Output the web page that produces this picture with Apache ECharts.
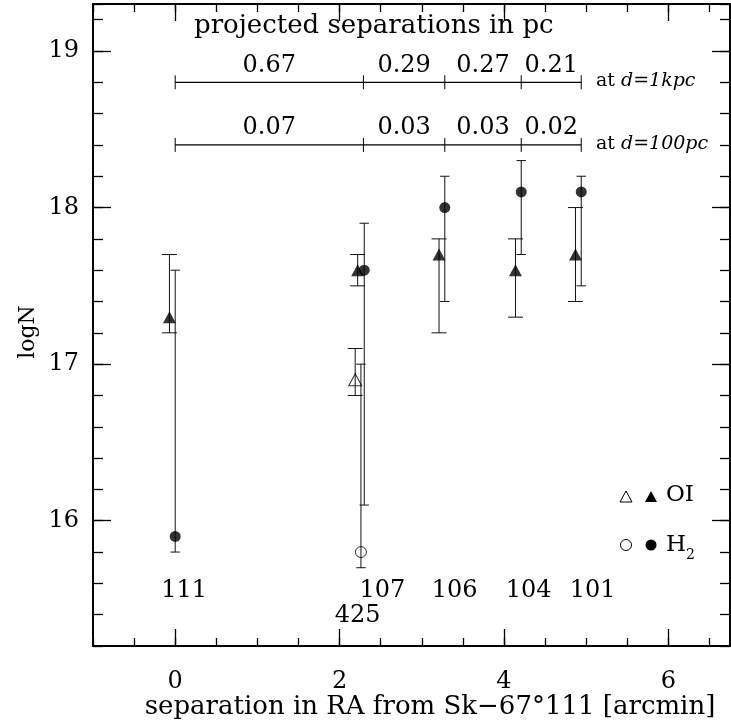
<!DOCTYPE html>
<html><head><meta charset="utf-8">
<script src="https://cdn.jsdelivr.net/npm/echarts@6/dist/echarts.min.js"></script>
<style>html,body{margin:0;padding:0;background:#fff}#c{width:731px;height:724px}</style>
</head><body><div id="c"></div>
<script>
// ---- data ----
const stars = ['111', '425', '107', '106', '104', '101'];
// OI column densities (x = separation, y = logN, error limits)
const oiX  = [-0.07, 2.19, 2.22, 3.21, 4.14, 4.87];
const oiY  = [17.3, 16.9, 17.6, 17.7, 17.6, 17.7];
const oiHi = [17.7, 17.1, 17.7, 17.8, 17.8, 18.0];
const oiLo = [17.2, 16.8, 17.5, 17.2, 17.3, 17.4];
const oiOpen = [false, true, false, false, false, false];
// H2 column densities
const h2X  = [0.0, 2.26, 2.30, 3.28, 4.21, 4.94];
const h2Y  = [15.9, 15.8, 17.6, 18.0, 18.1, 18.1];
const h2Hi = [17.6, 17.0, 17.9, 18.2, 18.3, 18.2];
const h2Lo = [15.8, 15.7, 16.1, 17.4, 17.7, 17.5];
const h2Open = [false, true, false, false, false, false];
// star name labels (data coords)
const starLabelX = [0.11, 2.22, 2.52, 3.40, 4.30, 5.08];
const starLabelY = [15.55, 15.39, 15.55, 15.55, 15.55, 15.55];
// projected separation bars
const sepTicks = [0, 2.29, 3.28, 4.21, 4.94];
const sep1kpc  = ['0.67', '0.29', '0.27', '0.21'];
const sep100pc = ['0.07', '0.03', '0.03', '0.02'];
const sepBarY  = [18.8, 18.4];
const sepNote  = ['1kpc', '100pc'];
const sepNoteX = 5.12;
// axes
const xTickLabels = [0, 2, 4, 6];
const yTickLabels = [16, 17, 18, 19];

// ---- chart ----
const FF = '"DejaVu Serif"';
const FS = 24;
const chart = echarts.init(document.getElementById('c'));

function xAxisDef(pos, major, showLabel) {
  return {
    type: 'value', position: pos, min: -1, max: 6.75, offset: 0,
    interval: major ? undefined : 0.5,
    splitLine: { show: false },
    axisLine: { show: major, onZero: false, lineStyle: { color: '#000', width: 2 } },
    axisTick: major
      ? { show: true, inside: true, length: 17, customValues: xTickLabels, lineStyle: { color: '#000', width: 1.3 } }
      : { show: true, inside: true, length: 8, lineStyle: { color: '#000', width: 1.3 } },
    axisLabel: (major && showLabel)
      ? { show: true, customValues: xTickLabels, margin: 24, color: '#000', fontFamily: FF, fontSize: FS }
      : { show: false }
  };
}
function yAxisDef(pos, major, showLabel) {
  return {
    type: 'value', position: pos, min: 15.2, max: 19.3, offset: 0,
    interval: major ? undefined : 0.2,
    splitLine: { show: false },
    axisLine: { show: major, onZero: false, lineStyle: { color: '#000', width: 2 } },
    axisTick: major
      ? { show: true, inside: true, length: 18, customValues: yTickLabels, lineStyle: { color: '#000', width: 1.3 } }
      : { show: true, inside: true, length: 10, lineStyle: { color: '#000', width: 1.3 } },
    axisLabel: (major && showLabel)
      ? { show: true, customValues: yTickLabels, margin: 14, color: '#000', fontFamily: FF, fontSize: FS }
      : { show: false }
  };
}

function errRender(capHalf, xs, los, his) {
  return function (params, api) {
    const i = params.dataIndex;
    const pHi = api.coord([xs[i], his[i]]);
    const pLo = api.coord([xs[i], los[i]]);
    const st = { stroke: '#111', lineWidth: 1 };
    return { type: 'group', children: [
      { type: 'line', shape: { x1: pHi[0], y1: pHi[1], x2: pLo[0], y2: pLo[1] }, style: st },
      { type: 'line', shape: { x1: pHi[0] - capHalf, y1: pHi[1], x2: pHi[0] + capHalf, y2: pHi[1] }, style: st },
      { type: 'line', shape: { x1: pLo[0] - capHalf, y1: pLo[1], x2: pLo[0] + capHalf, y2: pLo[1] }, style: st }
    ]};
  };
}

function sepRender(labels, barY) {
  return function (params, api) {
    const i = params.dataIndex;
    const p = api.coord([sepTicks[i], barY]);
    const st = { stroke: '#000', lineWidth: 1 };
    const ch = [{ type: 'line', shape: { x1: p[0], y1: p[1] - 7, x2: p[0], y2: p[1] + 7 }, style: st }];
    if (i > 0) {
      const q = api.coord([sepTicks[i - 1], barY]);
      ch.push({ type: 'line', shape: { x1: q[0], y1: p[1], x2: p[0], y2: p[1] }, style: { stroke: '#000', lineWidth: 1.3 } });
      ch.push({ type: 'text', style: { text: labels[i - 1], x: (p[0] + q[0]) / 2, y: p[1] - 17,
        align: 'center', verticalAlign: 'middle', fontFamily: FF, fontSize: FS, fill: '#000' } });
    }
    return { type: 'group', children: ch };
  };
}

function noteRender(params, api) {
  const i = params.dataIndex;
  const p = api.coord([sepNoteX, sepBarY[i]]);
  return { type: 'text', style: {
    text: '{r|at }{i|d}{r|=}{i|' + sepNote[i] + '}', x: p[0], y: p[1] - 1,
    align: 'left', verticalAlign: 'middle',
    rich: { r: { fontFamily: FF, fontSize: 19, fill: '#000', color: '#000' },
            i: { fontFamily: FF, fontSize: 19, fontStyle: 'italic', fill: '#000', color: '#000' } }
  }};
}

function starRender(params, api) {
  const i = params.dataIndex;
  const p = api.coord([starLabelX[i], starLabelY[i]]);
  return { type: 'text', style: { text: stars[i], x: p[0], y: p[1], align: 'center', verticalAlign: 'middle',
    fontFamily: FF, fontSize: FS, fill: '#000' } };
}

function pts(xs, ys, flags, open) {
  const out = [];
  for (let i = 0; i < xs.length; i++) if (flags[i] === open) out.push([xs[i], ys[i]]);
  return out;
}

const filledStyle = { color: '#000' };
const openStyle = { color: 'rgba(0,0,0,0)', borderColor: '#000', borderWidth: 1 };

const option = {
  animation: false,
  backgroundColor: '#fff',
  grid: { left: 93, right: 1, top: 4, bottom: 78, containLabel: false, outerBoundsMode: 'none' },
  xAxis: [xAxisDef('bottom', true, true), xAxisDef('bottom', false, false), xAxisDef('top', true, false), xAxisDef('top', false, false)],
  yAxis: [yAxisDef('left', true, true), yAxisDef('left', false, false), yAxisDef('right', true, false), yAxisDef('right', false, false)],
  graphic: [
    { type: 'text', left: 194, top: 13, style: { text: 'projected separations in pc', fontFamily: FF, fontSize: 26, fill: '#000' } },
    { type: 'text', x: 28, y: 332, rotation: Math.PI / 2,
      style: { text: 'logN', fontFamily: FF, fontSize: 22, fill: '#000', align: 'center', verticalAlign: 'middle' } },
    { type: 'text', x: 430, y: 707,
      style: { text: 'separation in RA from Sk\u221267\u00b0111 [arcmin]', fontFamily: FF, fontSize: 26, fill: '#000', align: 'center', verticalAlign: 'middle' } },
    // legend
    { type: 'polygon', shape: { points: [[620, 502], [632, 502], [626, 491]] }, style: { fill: 'none', stroke: '#000', lineWidth: 1 } },
    { type: 'polygon', shape: { points: [[645, 502], [657, 502], [651, 491]] }, style: { fill: '#000' } },
    { type: 'text', x: 666, y: 495, style: { text: 'OI', fontFamily: FF, fontSize: 23, fill: '#000', verticalAlign: 'middle' } },
    { type: 'circle', shape: { cx: 626, cy: 545, r: 5.5 }, style: { fill: 'none', stroke: '#000', lineWidth: 1 } },
    { type: 'circle', shape: { cx: 651, cy: 545, r: 5.5 }, style: { fill: '#000' } },
    { type: 'text', x: 666, y: 545, style: { text: 'H', fontFamily: FF, fontSize: 23, fill: '#000', verticalAlign: 'middle' } },
    { type: 'text', x: 686, y: 555, style: { text: '2', fontFamily: FF, fontSize: 14, fill: '#000', verticalAlign: 'middle' } }
  ],
  series: [
    { type: 'custom', renderItem: errRender(7.5, oiX, oiLo, oiHi), data: oiX.map((x, i) => [x, oiY[i]]), z: 2 },
    { type: 'custom', renderItem: errRender(4.7, h2X, h2Lo, h2Hi), data: h2X.map((x, i) => [x, h2Y[i]]), z: 2 },
    { type: 'scatter', symbol: 'triangle', symbolSize: [13, 12], itemStyle: filledStyle, data: pts(oiX, oiY, oiOpen, false), z: 4 },
    { type: 'scatter', symbol: 'triangle', symbolSize: [13, 12], itemStyle: openStyle, data: pts(oiX, oiY, oiOpen, true), z: 4 },
    { type: 'scatter', symbol: 'circle', symbolSize: 11, itemStyle: filledStyle, data: pts(h2X, h2Y, h2Open, false), z: 4 },
    { type: 'scatter', symbol: 'circle', symbolSize: 11, itemStyle: openStyle, data: pts(h2X, h2Y, h2Open, true), z: 4 },
    { type: 'custom', renderItem: sepRender(sep1kpc, sepBarY[0]), data: sepTicks.map(x => [x, sepBarY[0]]), z: 3 },
    { type: 'custom', renderItem: sepRender(sep100pc, sepBarY[1]), data: sepTicks.map(x => [x, sepBarY[1]]), z: 3 },
    { type: 'custom', renderItem: noteRender, data: sepBarY.map(y => [sepNoteX, y]), z: 3 },
    { type: 'custom', renderItem: starRender, data: starLabelX.map((x, i) => [x, starLabelY[i]]), z: 3 }
  ]
};
chart.setOption(option);
</script></body></html>
